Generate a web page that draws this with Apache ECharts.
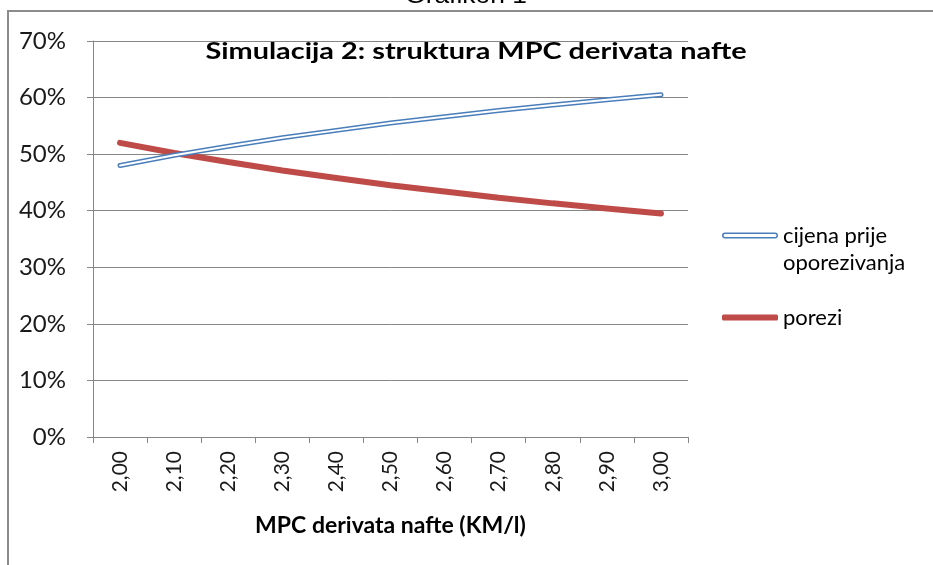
<!DOCTYPE html>
<html>
<head>
<meta charset="utf-8">
<script src="https://cdn.jsdelivr.net/npm/echarts@6/dist/echarts.min.js"></script>
<style>
html,body{margin:0;padding:0;background:#fff;}
#c{width:933px;height:565px;}
</style>
</head>
<body>
<div id="c"></div>
<script>
// Data
const categories = ['2,00','2,10','2,20','2,30','2,40','2,50','2,60','2,70','2,80','2,90','3,00'];
const cijenaPrije = [0.480, 0.498, 0.514, 0.529, 0.542, 0.555, 0.566, 0.577, 0.587, 0.596, 0.605];
const porezi = [0.520, 0.502, 0.486, 0.471, 0.458, 0.445, 0.434, 0.423, 0.413, 0.404, 0.395];
const yTicks = [0, 0.1, 0.2, 0.3, 0.4, 0.5, 0.6, 0.7];

const FONT = 'Lato';
const chart = echarts.init(document.getElementById('c'), null, {renderer: 'canvas'});
const option = {
  animation: false,
  backgroundColor: '#ffffff',
  graphic: [
    {type: 'rect', shape: {x: 8, y: 11, width: 1100, height: 1000},
     style: {fill: 'none', stroke: '#8c8c8c', lineWidth: 2}, silent: true, z: 0},
    {type: 'text', x: 466, y: -4, scaleX: 1.1,
     style: {text: 'Grafikon 1', x: 0, y: 0, align: 'center', verticalAlign: 'middle',
             font: '24px "Liberation Sans"', fill: '#000'}},
    {type: 'text', x: 476, y: 52, scaleX: 1.255, z: 10,
     style: {text: 'Simulacija 2: struktura MPC derivata nafte', x: 0, y: 0,
             align: 'center', verticalAlign: 'middle',
             font: 'bold 23px Lato', fill: '#000'}}
  ],
  legend: [
    {
      data: [{name: 'cijena prije oporezivanja',
              icon: 'path://M3,0H53A3,3 0 0 1 53,6H3A3,3 0 0 1 3,0Z M3,1.5A1.5,1.5 0 0 0 3,4.5H53A1.5,1.5 0 0 0 53,1.5Z'}],
      orient: 'vertical', left: 717, top: 190,
      itemWidth: 56, itemHeight: 6,
      formatter: function(){ return ' \ncijena prije\noporezivanja'; },
      textStyle: {fontFamily: FONT, fontSize: 22, color: '#000', lineHeight: 27}
    },
    {
      data: [{name: 'porezi', icon: 'roundRect'}],
      orient: 'vertical', left: 717, top: 299,
      itemWidth: 56, itemHeight: 6,
      textStyle: {fontFamily: FONT, fontSize: 22, color: '#000', lineHeight: 27}
    }
  ],
  grid: {left: 93, right: 245, top: 41, bottom: 128, containLabel: false},
  xAxis: {
    type: 'category', data: categories, boundaryGap: true,
    name: 'MPC derivata nafte (KM/l)', nameLocation: 'middle', nameGap: 77,
    nameTextStyle: {fontFamily: FONT, fontSize: 23, fontWeight: 'bold', color: '#000'},
    axisLine: {lineStyle: {color: '#868686', width: 1}},
    axisTick: {show: true, alignWithLabel: false, length: 6, lineStyle: {color: '#868686'}},
    axisLabel: {rotate: 90, margin: 14, fontFamily: FONT, fontSize: 21, color: '#1a1a1a'},
    splitLine: {show: false}
  },
  yAxis: {
    type: 'value', min: 0, max: 0.7, interval: 0.1,
    axisLine: {show: true, lineStyle: {color: '#868686', width: 1}},
    axisTick: {show: true, length: 6, lineStyle: {color: '#868686'}},
    axisLabel: {margin: 27, fontFamily: FONT, fontSize: 24, color: '#1a1a1a',
      formatter: function(v){ return Math.round(v*100) + '%'; }},
    splitLine: {lineStyle: {color: '#868686', width: 1}}
  },
  series: [
    {name: 'cijena prije oporezivanja', type: 'line', data: cijenaPrije, symbol: 'none',
     color: '#4a7ebb', lineStyle: {color: '#4a7ebb', width: 5, cap: 'round'}, z: 3},
    {name: 'cijena_inner', type: 'line', data: cijenaPrije, symbol: 'none',
     color: '#ffffff', lineStyle: {color: '#ffffff', width: 2, cap: 'round'}, z: 4, silent: true},
    {name: 'porezi', type: 'line', data: porezi, symbol: 'none',
     color: '#be4b48', lineStyle: {color: '#be4b48', width: 6, cap: 'round'}, z: 2}
  ]
};
chart.setOption(option);
</script>
</body>
</html>
